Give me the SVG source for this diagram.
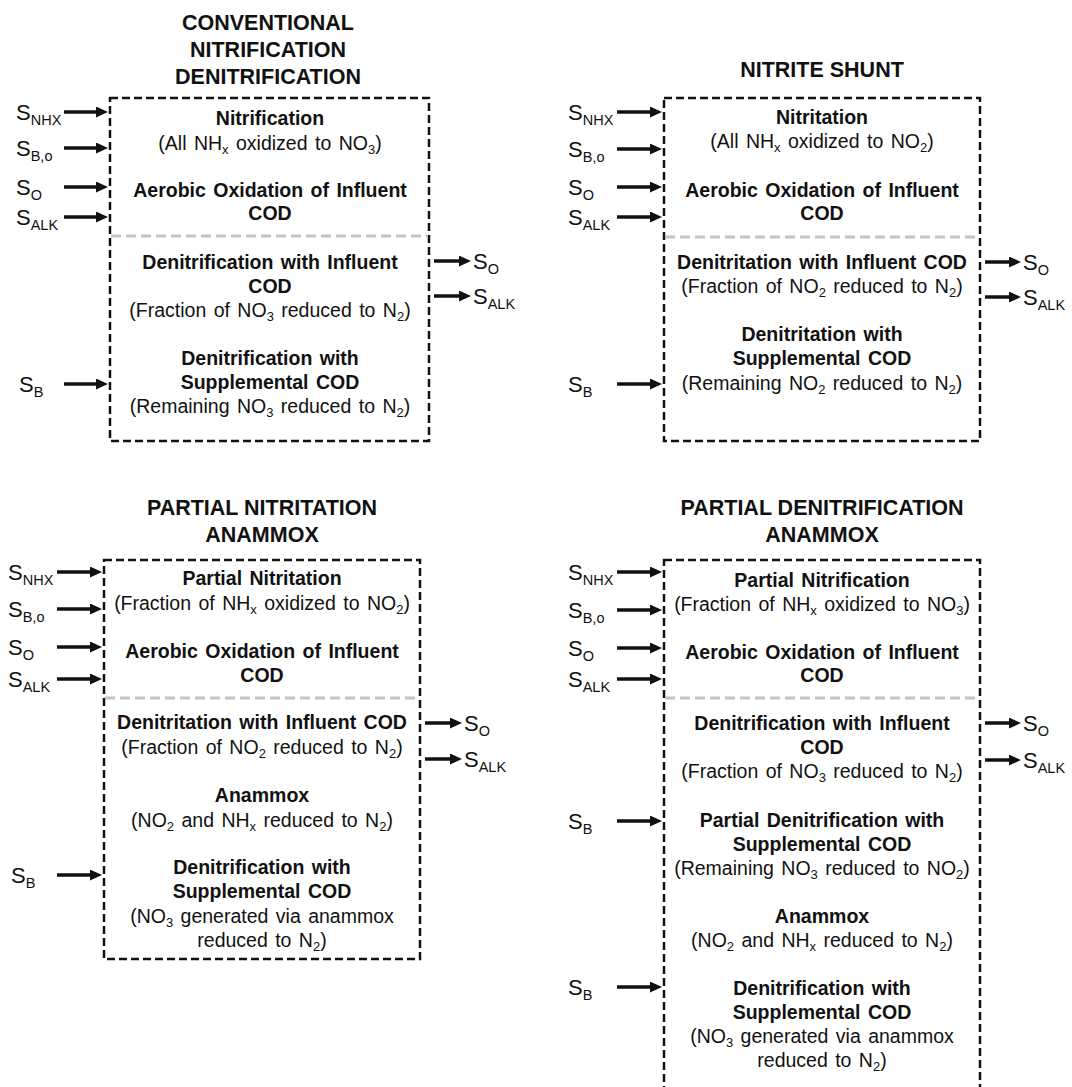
<svg xmlns="http://www.w3.org/2000/svg" width="1072" height="1087" viewBox="0 0 1072 1087">
<defs>
<marker id="ah" markerUnits="userSpaceOnUse" markerWidth="12" markerHeight="11" viewBox="0 0 12 11" refX="7" refY="5.5" orient="auto">
<path d="M0,0 L12,5.5 L0,11 z" fill="#111"/>
</marker>
</defs>
<style>
text{font-family:"Liberation Sans",Arial,sans-serif;fill:#111}
.title{font-size:21.5px;font-weight:bold;text-anchor:middle}
.b{font-size:19.5px;font-weight:bold;text-anchor:middle;word-spacing:2px}
.n{font-size:19.5px;text-anchor:middle;word-spacing:2px}
.lbl{font-size:22px}
.sub{font-size:13px}
.ls{font-size:14.5px}
.box{fill:none;stroke:#111;stroke-width:2.5;stroke-dasharray:8 4}
.sep{stroke:#c4c4c4;stroke-width:3;stroke-dasharray:10 5}
.arr{stroke:#111;stroke-width:3.5;fill:none;marker-end:url(#ah)}
</style>
<rect width="1072" height="1087" fill="#fff"/>

<!-- Panel 1 -->
<g id="panel-conventional">
<text class="title" x="268" y="30">CONVENTIONAL</text>
<text class="title" x="268" y="57">NITRIFICATION</text>
<text class="title" x="268" y="84">DENITRIFICATION</text>
<rect class="box" x="110" y="98" width="319" height="343"/>
<line class="sep" x1="111" y1="236" x2="428" y2="236"/>
<text class="b" x="270" y="125">Nitrification</text>
<text class="n" x="270" y="150">(All NH<tspan class="sub" dy="4">x</tspan><tspan dy="-4"> oxidized to NO</tspan><tspan class="sub" dy="4">3</tspan><tspan dy="-4">)</tspan></text>
<text class="b" x="270" y="197">Aerobic Oxidation of Influent</text>
<text class="b" x="270" y="220">COD</text>
<text class="b" x="270" y="269">Denitrification with Influent</text>
<text class="b" x="270" y="293">COD</text>
<text class="n" x="270" y="317">(Fraction of NO<tspan class="sub" dy="4">3</tspan><tspan dy="-4"> reduced to N</tspan><tspan class="sub" dy="4">2</tspan><tspan dy="-4">)</tspan></text>
<text class="b" x="270" y="365">Denitrification with</text>
<text class="b" x="270" y="389">Supplemental COD</text>
<text class="n" x="270" y="413">(Remaining NO<tspan class="sub" dy="4">3</tspan><tspan dy="-4"> reduced to N</tspan><tspan class="sub" dy="4">2</tspan><tspan dy="-4">)</tspan></text>
<text class="lbl" x="16" y="120">S<tspan class="ls" dy="5">NHX</tspan></text>
<text class="lbl" x="16" y="156">S<tspan class="ls" dy="5">B,o</tspan></text>
<text class="lbl" x="16" y="195">S<tspan class="ls" dy="5">O</tspan></text>
<text class="lbl" x="16" y="225">S<tspan class="ls" dy="5">ALK</tspan></text>
<text class="lbl" x="19" y="392">S<tspan class="ls" dy="5">B</tspan></text>
<text class="lbl" x="473" y="269">S<tspan class="ls" dy="5">O</tspan></text>
<text class="lbl" x="473" y="304">S<tspan class="ls" dy="5">ALK</tspan></text>
</g>

<!-- Panel 2 -->
<g id="panel-nitrite-shunt">
<text class="title" x="822" y="77">NITRITE SHUNT</text>
<rect class="box" x="664" y="98" width="316" height="343"/>
<line class="sep" x1="665" y1="237" x2="979" y2="237"/>
<text class="b" x="822" y="124">Nitritation</text>
<text class="n" x="822" y="148">(All NH<tspan class="sub" dy="4">x</tspan><tspan dy="-4"> oxidized to NO</tspan><tspan class="sub" dy="4">2</tspan><tspan dy="-4">)</tspan></text>
<text class="b" x="822" y="197">Aerobic Oxidation of Influent</text>
<text class="b" x="822" y="220">COD</text>
<text class="b" x="822" y="269">Denitritation with Influent COD</text>
<text class="n" x="822" y="293">(Fraction of NO<tspan class="sub" dy="4">2</tspan><tspan dy="-4"> reduced to N</tspan><tspan class="sub" dy="4">2</tspan><tspan dy="-4">)</tspan></text>
<text class="b" x="822" y="341">Denitritation with</text>
<text class="b" x="822" y="365">Supplemental COD</text>
<text class="n" x="822" y="390">(Remaining NO<tspan class="sub" dy="4">2</tspan><tspan dy="-4"> reduced to N</tspan><tspan class="sub" dy="4">2</tspan><tspan dy="-4">)</tspan></text>
<text class="lbl" x="568" y="120">S<tspan class="ls" dy="5">NHX</tspan></text>
<text class="lbl" x="568" y="157">S<tspan class="ls" dy="5">B,o</tspan></text>
<text class="lbl" x="568" y="195">S<tspan class="ls" dy="5">O</tspan></text>
<text class="lbl" x="568" y="225">S<tspan class="ls" dy="5">ALK</tspan></text>
<text class="lbl" x="568" y="392">S<tspan class="ls" dy="5">B</tspan></text>
<text class="lbl" x="1023" y="270">S<tspan class="ls" dy="5">O</tspan></text>
<text class="lbl" x="1023" y="305">S<tspan class="ls" dy="5">ALK</tspan></text>
</g>

<!-- Panel 3 -->
<g id="panel-pna">
<text class="title" x="262" y="515">PARTIAL NITRITATION</text>
<text class="title" x="262" y="542">ANAMMOX</text>
<rect class="box" x="104" y="560" width="316" height="399"/>
<line class="sep" x1="105" y1="698" x2="419" y2="698"/>
<text class="b" x="262" y="585">Partial Nitritation</text>
<text class="n" x="262" y="610">(Fraction of NH<tspan class="sub" dy="4">x</tspan><tspan dy="-4"> oxidized to NO</tspan><tspan class="sub" dy="4">2</tspan><tspan dy="-4">)</tspan></text>
<text class="b" x="262" y="658">Aerobic Oxidation of Influent</text>
<text class="b" x="262" y="682">COD</text>
<text class="b" x="262" y="729">Denitritation with Influent COD</text>
<text class="n" x="262" y="754">(Fraction of NO<tspan class="sub" dy="4">2</tspan><tspan dy="-4"> reduced to N</tspan><tspan class="sub" dy="4">2</tspan><tspan dy="-4">)</tspan></text>
<text class="b" x="262" y="802">Anammox</text>
<text class="n" x="262" y="827">(NO<tspan class="sub" dy="4">2</tspan><tspan dy="-4"> and NH</tspan><tspan class="sub" dy="4">x</tspan><tspan dy="-4"> reduced to N</tspan><tspan class="sub" dy="4">2</tspan><tspan dy="-4">)</tspan></text>
<text class="b" x="262" y="874">Denitrification with</text>
<text class="b" x="262" y="898">Supplemental COD</text>
<text class="n" x="262" y="923">(NO<tspan class="sub" dy="4">3</tspan><tspan dy="-4"> generated via anammox</tspan></text>
<text class="n" x="262" y="947">reduced to N<tspan class="sub" dy="4">2</tspan><tspan dy="-4">)</tspan></text>
<text class="lbl" x="8" y="580">S<tspan class="ls" dy="5">NHX</tspan></text>
<text class="lbl" x="8" y="617">S<tspan class="ls" dy="5">B,o</tspan></text>
<text class="lbl" x="8" y="655">S<tspan class="ls" dy="5">O</tspan></text>
<text class="lbl" x="8" y="687">S<tspan class="ls" dy="5">ALK</tspan></text>
<text class="lbl" x="11" y="883">S<tspan class="ls" dy="5">B</tspan></text>
<text class="lbl" x="464" y="731">S<tspan class="ls" dy="5">O</tspan></text>
<text class="lbl" x="464" y="767">S<tspan class="ls" dy="5">ALK</tspan></text>
</g>

<!-- Panel 4 -->
<g id="panel-pdna">
<text class="title" x="822" y="515">PARTIAL DENITRIFICATION</text>
<text class="title" x="822" y="542">ANAMMOX</text>
<rect class="box" x="664" y="560" width="316" height="545"/>
<line class="sep" x1="665" y1="698" x2="979" y2="698"/>
<text class="b" x="822" y="587">Partial Nitrification</text>
<text class="n" x="822" y="611">(Fraction of NH<tspan class="sub" dy="4">x</tspan><tspan dy="-4"> oxidized to NO</tspan><tspan class="sub" dy="4">3</tspan><tspan dy="-4">)</tspan></text>
<text class="b" x="822" y="659">Aerobic Oxidation of Influent</text>
<text class="b" x="822" y="682">COD</text>
<text class="b" x="822" y="730">Denitrification with Influent</text>
<text class="b" x="822" y="754">COD</text>
<text class="n" x="822" y="778">(Fraction of NO<tspan class="sub" dy="4">3</tspan><tspan dy="-4"> reduced to N</tspan><tspan class="sub" dy="4">2</tspan><tspan dy="-4">)</tspan></text>
<text class="b" x="822" y="827">Partial Denitrification with</text>
<text class="b" x="822" y="851">Supplemental COD</text>
<text class="n" x="822" y="875">(Remaining NO<tspan class="sub" dy="4">3</tspan><tspan dy="-4"> reduced to NO</tspan><tspan class="sub" dy="4">2</tspan><tspan dy="-4">)</tspan></text>
<text class="b" x="822" y="923">Anammox</text>
<text class="n" x="822" y="947">(NO<tspan class="sub" dy="4">2</tspan><tspan dy="-4"> and NH</tspan><tspan class="sub" dy="4">x</tspan><tspan dy="-4"> reduced to N</tspan><tspan class="sub" dy="4">2</tspan><tspan dy="-4">)</tspan></text>
<text class="b" x="822" y="995">Denitrification with</text>
<text class="b" x="822" y="1019">Supplemental COD</text>
<text class="n" x="822" y="1043">(NO<tspan class="sub" dy="4">3</tspan><tspan dy="-4"> generated via anammox</tspan></text>
<text class="n" x="822" y="1067">reduced to N<tspan class="sub" dy="4">2</tspan><tspan dy="-4">)</tspan></text>
<text class="lbl" x="568" y="580">S<tspan class="ls" dy="5">NHX</tspan></text>
<text class="lbl" x="568" y="618">S<tspan class="ls" dy="5">B,o</tspan></text>
<text class="lbl" x="568" y="656">S<tspan class="ls" dy="5">O</tspan></text>
<text class="lbl" x="568" y="687">S<tspan class="ls" dy="5">ALK</tspan></text>
<text class="lbl" x="568" y="829">S<tspan class="ls" dy="5">B</tspan></text>
<text class="lbl" x="568" y="995">S<tspan class="ls" dy="5">B</tspan></text>
<text class="lbl" x="1023" y="731">S<tspan class="ls" dy="5">O</tspan></text>
<text class="lbl" x="1023" y="768">S<tspan class="ls" dy="5">ALK</tspan></text>
</g>

<g id="connectors">
<line class="arr" x1="64" y1="112" x2="103" y2="112"/>
<line class="arr" x1="64" y1="148" x2="103" y2="148"/>
<line class="arr" x1="64" y1="187" x2="103" y2="187"/>
<line class="arr" x1="64" y1="217" x2="103" y2="217"/>
<line class="arr" x1="64" y1="384" x2="103" y2="384"/>
<line class="arr" x1="434" y1="261" x2="466" y2="261"/>
<line class="arr" x1="434" y1="296" x2="466" y2="296"/>

<line class="arr" x1="617" y1="112" x2="657" y2="112"/>
<line class="arr" x1="617" y1="149" x2="657" y2="149"/>
<line class="arr" x1="617" y1="187" x2="657" y2="187"/>
<line class="arr" x1="617" y1="217" x2="657" y2="217"/>
<line class="arr" x1="617" y1="384" x2="657" y2="384"/>
<line class="arr" x1="985" y1="262" x2="1016" y2="262"/>
<line class="arr" x1="985" y1="297" x2="1016" y2="297"/>

<line class="arr" x1="57" y1="572" x2="97" y2="572"/>
<line class="arr" x1="57" y1="609" x2="97" y2="609"/>
<line class="arr" x1="57" y1="647" x2="97" y2="647"/>
<line class="arr" x1="57" y1="679" x2="97" y2="679"/>
<line class="arr" x1="57" y1="875" x2="97" y2="875"/>
<line class="arr" x1="425" y1="723" x2="457" y2="723"/>
<line class="arr" x1="425" y1="759" x2="457" y2="759"/>

<line class="arr" x1="617" y1="572" x2="657" y2="572"/>
<line class="arr" x1="617" y1="610" x2="657" y2="610"/>
<line class="arr" x1="617" y1="648" x2="657" y2="648"/>
<line class="arr" x1="617" y1="679" x2="657" y2="679"/>
<line class="arr" x1="617" y1="821" x2="657" y2="821"/>
<line class="arr" x1="617" y1="987" x2="657" y2="987"/>
<line class="arr" x1="985" y1="723" x2="1016" y2="723"/>
<line class="arr" x1="985" y1="760" x2="1016" y2="760"/>
</g>
</svg>
